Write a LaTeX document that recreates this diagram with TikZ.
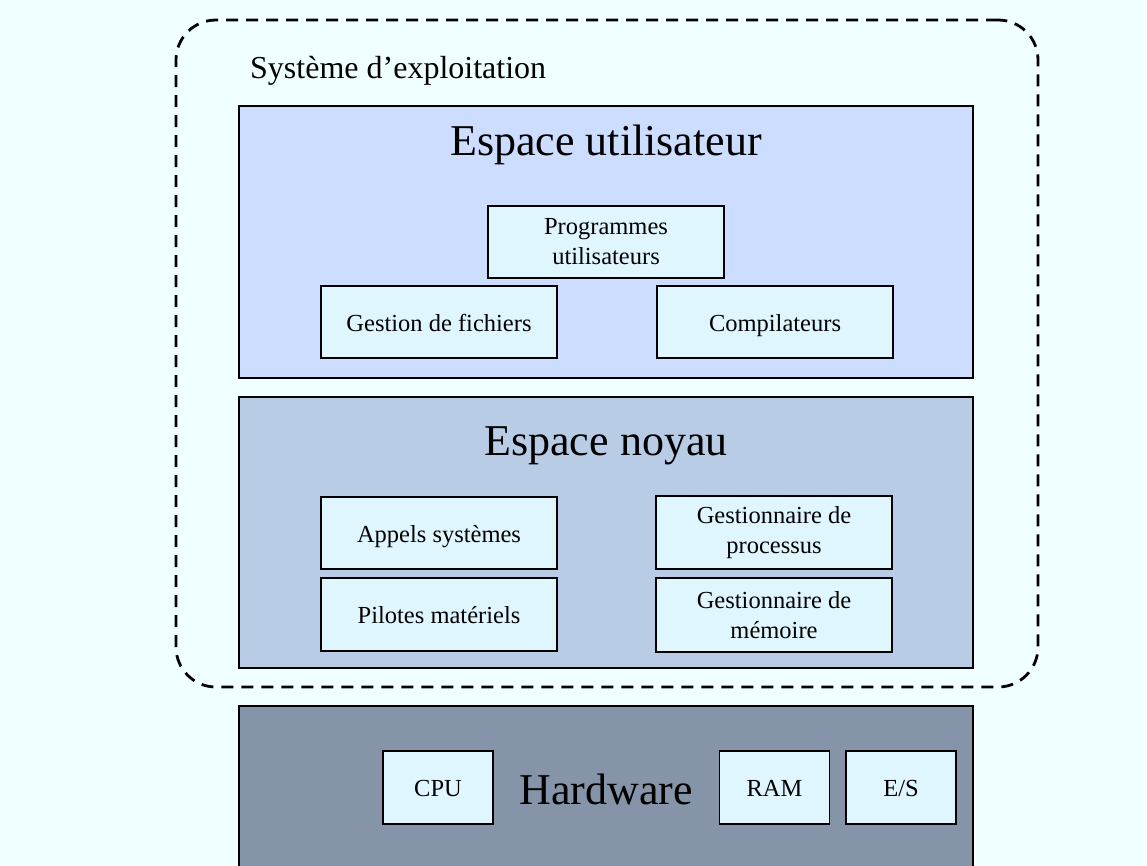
\documentclass[tikz,border=0pt]{standalone}
\usepackage{fontspec}
\setmainfont{Liberation Serif}
\definecolor{bgc}{HTML}{F0FFFF}
\definecolor{userc}{HTML}{CCDDFF}
\definecolor{kernc}{HTML}{B8CCE6}
\definecolor{hwc}{HTML}{8594A9}
\definecolor{boxc}{HTML}{E0F6FF}
\tikzset{
  layer/.style={draw=black, line width=1.8pt, inner sep=0pt},
  smallbox/.style={draw=black, line width=1.8pt, fill=boxc, inner sep=0pt,
    minimum width=236pt, minimum height=72pt, align=center,
    font=\fontsize{24.5}{30}\selectfont},
  oneline/.style={text height=24pt, text depth=6pt},
  hwbox/.style={smallbox, oneline, minimum width=110pt, minimum height=73pt},
  bigtitle/.style={anchor=base, inner sep=0pt, font=\fontsize{44}{50}\selectfont},
  osbox/.style={draw=black, line width=2.8pt, dash pattern=on 12pt off 8pt,
    rounded corners=40pt, inner sep=0pt}
}
\begin{document}
\begin{tikzpicture}[x=1pt,y=-1pt]
\useasboundingbox (0,0) rectangle (1147,865);
\clip (0,0) rectangle (1147,865);
\fill[bgc] (0,0) rectangle (1147,865);
% operating system frame
\node[osbox, minimum width=862pt, minimum height=667pt] (os) at (607,353.5) {};
\node[anchor=base west, inner sep=0pt, font=\fontsize{32}{38}\selectfont] (oslabel) at (250,78) {Système d’exploitation};
% layers
\node[layer, fill=userc, minimum width=734pt, minimum height=272pt] (user) at (606,242) {};
\node[layer, fill=kernc, minimum width=734pt, minimum height=271pt] (kern) at (606,532.5) {};
\node[layer, fill=hwc, minimum width=734pt, minimum height=184pt] (hw) at (606,798) {};
% titles
\node[bigtitle] (usertitle) at (606,155) {Espace utilisateur};
\node[bigtitle] (kerntitle) at (606,455) {Espace noyau};
\node[bigtitle] (hwtitle) at (606,804) {Hardware};
% user space boxes
\node[smallbox] (prog) at (606,242) {Programmes\\utilisateurs};
\node[smallbox, oneline] (gest) at (439,322) {Gestion de fichiers};
\node[smallbox, oneline] (comp) at (775,322) {Compilateurs};
% kernel boxes
\node[smallbox, oneline] (appels) at (439,533) {Appels systèmes};
\node[smallbox, oneline, minimum height=73pt] (pilotes) at (439,614.5) {Pilotes matériels};
\node[smallbox, minimum height=73pt] (gproc) at (774,532.5) {Gestionnaire de\\processus};
\node[smallbox, minimum height=74pt] (gmem) at (774,615) {Gestionnaire de\\mémoire};
% hardware boxes
\node[hwbox] (cpu) at (438,787.5) {CPU};
\node[hwbox] (ram) at (774.5,787.5) {RAM};
\node[hwbox] (es) at (901,787.5) {E/S};
\end{tikzpicture}
\end{document}
